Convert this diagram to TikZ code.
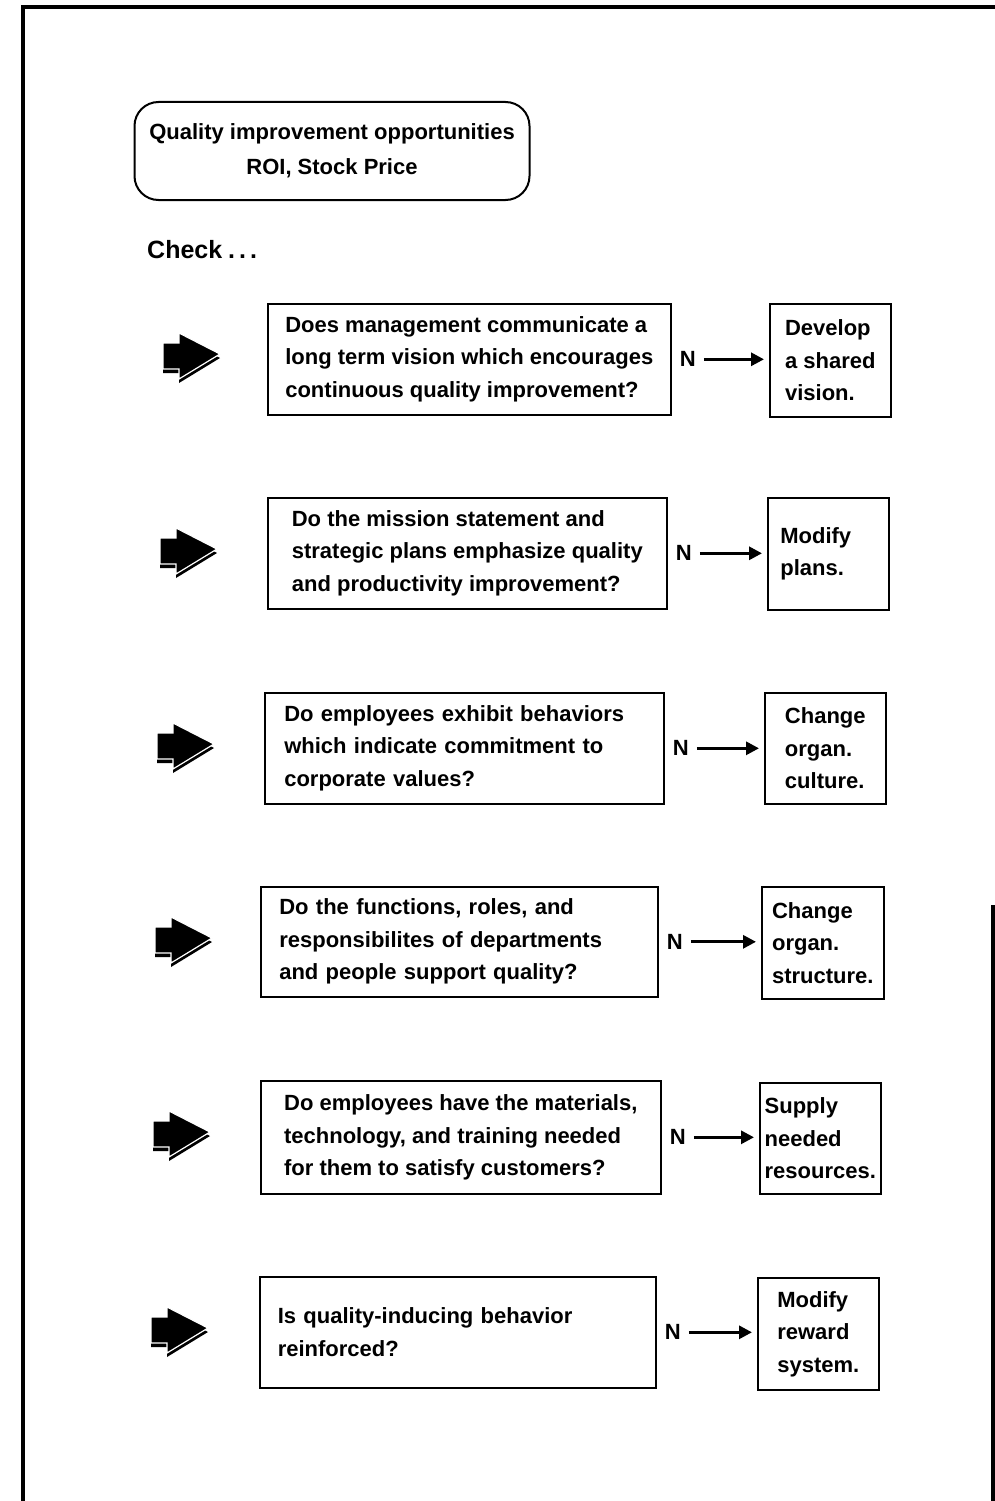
\documentclass[tikz,border=0pt]{standalone}
\usepackage{fontspec}
\setmainfont{Liberation Sans}
\usetikzlibrary{positioning,arrows.meta}

\begin{document}
\begin{tikzpicture}[x=1pt,y=-1pt,
  every node/.style={font=\fontsize{22}{32.5}\selectfont\bfseries},
  qbox/.style n args={2}{draw,line width=1.6pt,anchor=north west,align=left,
    inner xsep=0pt,minimum width=#1pt,minimum height=#2pt},
  rbox/.style n args={2}{draw,line width=1.6pt,anchor=north west,align=left,
    inner sep=0pt,minimum width=#1pt,minimum height=#2pt},
  nlabel/.style={inner sep=2pt},
  conn/.style={line width=3pt,-{Triangle[length=13pt,width=13pt]},
    shorten <=6pt,shorten >=5pt},
  pointer/.pic={
    \fill[shift={(0,4)}] (0,-13) -- (16,-13) -- (16,-23) -- (57,-2)
      -- (16,23) -- (16,13) -- (0,13) -- cycle;
    \filldraw[fill=black,draw=white,line width=1.2pt] (0,-13) -- (16,-13)
      -- (16,-23) -- (57,-2) -- (16,23) -- (16,13) -- (0,13) -- cycle;
  }]
\useasboundingbox (0,0) rectangle (995,1501);

% page frame
\draw[line width=4pt] (23,1501) -- (23,7) -- (995,7);
\draw[line width=3.5pt] (993,905) -- (993,1501);

% heading
\node[draw,line width=2pt,rounded corners=24pt,minimum width=395pt,
  minimum height=98pt,align=center,font=\fontsize{22}{35}\selectfont\bfseries]
  (goal) at (332,151) {Quality improvement opportunities\\ROI, Stock Price};
\node[anchor=base west,inner sep=0pt,font=\fontsize{25}{30}\selectfont\bfseries]
  (check) at (147,258) {Check\hspace{6pt}.\hspace{4pt}.\hspace{4pt}.};

% questions
\node[qbox={403}{111}] (q1) at (267,303)
  {Does management communicate a\\long term vision which encourages\\continuous quality improvement?};
\node[qbox={399}{111}] (q2) at (267,497)
  {Do the mission statement and\\strategic plans emphasize quality\\and productivity improvement?};
\node[qbox={399}{111},text width=360pt] (q3) at (264,692)
  {Do employees exhibit behaviors\\which indicate commitment to\\corporate values?};
\node[qbox={397}{110},text width=360pt] (q4) at (260,886)
  {Do the functions, roles, and\\responsibilites of departments\\and people support quality?};
\node[qbox={400}{113}] (q5) at (260,1080)
  {Do employees have the materials,\\technology, and training needed\\for them to satisfy customers?};
\node[qbox={396}{111},text width=360pt] (q6) at (259,1276)
  {Is quality-inducing behavior\\reinforced?};

% actions
\node[rbox={121}{113}] (r1) at (769,303) {Develop\\a shared\\vision.};
\node[rbox={121}{112},text width=96pt] (r2) at (767,497) {Modify\\plans.};
\node[rbox={121}{111}] (r3) at (764,692) {Change\\organ.\\culture.};
\node[rbox={122}{112}] (r4) at (761,886) {Change\\organ.\\structure.};
\node[rbox={121}{111}] (r5) at (759,1082) {Supply\\needed\\resources.};
\node[rbox={121}{112}] (r6) at (757,1277) {Modify\\reward\\system.};

% N answers
\foreach \i in {1,...,6}{
  \node[nlabel,right=6pt of q\i] (n\i) {N};
  \draw[conn] (n\i.east) -- (n\i.east -| r\i.west);
}

% pointers
\foreach \x/\y in {163/356, 160/551, 157/746, 155/940, 153/1134, 151/1330}
  \pic at (\x,\y) {pointer};
\end{tikzpicture}
\end{document}
